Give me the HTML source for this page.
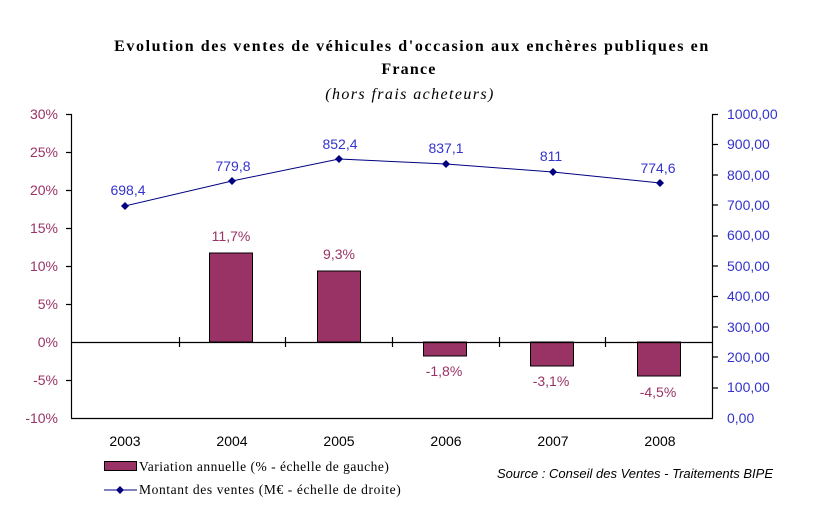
<!DOCTYPE html><html><head><style>body{margin:0;background:#fff}svg text{font-family:"Liberation Sans",sans-serif}svg text.s{font-family:"Liberation Serif",serif}</style></head><body>
<svg width="827" height="525" xmlns="http://www.w3.org/2000/svg">
<rect width="827" height="525" fill="#fff"/>
<text class="s" x="412" y="51" text-anchor="middle" font-size="16" font-weight="bold" letter-spacing="1.6">Evolution des ventes de véhicules d'occasion aux enchères publiques en</text>
<text class="s" x="409" y="74" text-anchor="middle" font-size="16" font-weight="bold" letter-spacing="1.2">France</text>
<text class="s" x="410" y="99" text-anchor="middle" font-size="16" font-style="italic" letter-spacing="1.4">(hors frais acheteurs)</text>
<g font-size="14" fill="#993366" text-anchor="end">
<text x="58" y="119">30%</text><text x="58" y="157">25%</text><text x="58" y="195">20%</text><text x="58" y="233">15%</text><text x="58" y="271">10%</text><text x="58" y="309">5%</text><text x="58" y="347">0%</text><text x="58" y="385">-5%</text><text x="58" y="423">-10%</text>
</g>
<g font-size="14" fill="#3333cc">
<text x="727" y="119">1000,00</text><text x="727" y="149">900,00</text><text x="727" y="180">800,00</text><text x="727" y="210">700,00</text><text x="727" y="240">600,00</text><text x="727" y="271">500,00</text><text x="727" y="301">400,00</text><text x="727" y="332">300,00</text><text x="727" y="362">200,00</text><text x="727" y="392">100,00</text><text x="727" y="423">0,00</text>
</g>
<g fill="#993366" stroke="#000" stroke-width="1">
<rect x="209.5" y="253" width="43" height="89"/>
<rect x="317.5" y="271" width="43" height="71"/>
<rect x="423.5" y="342" width="43" height="14"/>
<rect x="530.5" y="342" width="43" height="24"/>
<rect x="637.5" y="342" width="43" height="34"/>
</g>
<g stroke="#000" stroke-width="1.2" fill="none">
<line x1="71.5" y1="114" x2="71.5" y2="418"/>
<line x1="712.5" y1="114" x2="712.5" y2="418"/>
<line x1="71" y1="418.5" x2="713" y2="418.5"/>
<line x1="71" y1="342.5" x2="713" y2="342.5"/>
<path d="M66 114.5h6M66 152.5h6M66 190.5h6M66 228.5h6M66 266.5h6M66 304.5h6M66 380.5h6"/>
<path d="M712 114.5h6M712 144.5h6M712 175h6M712 205h6M712 236h6M712 266h6M712 296.5h6M712 327h6M712 357h6M712 388h6"/>
<path d="M179.5 337v10M285.5 337v10M392.5 337v10M499.5 337v10M605.5 337v10"/>
</g>
<polyline points="125,206 232,181 339,159 446,164 553,172 660,183" fill="none" stroke="#000080" stroke-width="1"/>
<g fill="#000080">
<path d="M125 202l4 4-4 4-4-4z"/><path d="M232 177l4 4-4 4-4-4z"/><path d="M339 155l4 4-4 4-4-4z"/><path d="M446 160l4 4-4 4-4-4z"/><path d="M553 168l4 4-4 4-4-4z"/><path d="M660 179l4 4-4 4-4-4z"/>
</g>
<g font-size="14" fill="#3333cc" text-anchor="middle">
<text x="128" y="195">698,4</text><text x="233" y="171">779,8</text><text x="340" y="149">852,4</text><text x="446" y="153">837,1</text><text x="551" y="161">811</text><text x="658" y="173">774,6</text>
</g>
<g font-size="14" fill="#993366" text-anchor="middle">
<text x="231" y="241">11,7%</text><text x="339" y="259">9,3%</text><text x="444" y="376">-1,8%</text><text x="551" y="386">-3,1%</text><text x="658" y="397">-4,5%</text>
</g>
<g font-size="14" fill="#000" text-anchor="middle">
<text x="125" y="446">2003</text><text x="232" y="446">2004</text><text x="339" y="446">2005</text><text x="446" y="446">2006</text><text x="553" y="446">2007</text><text x="660" y="446">2008</text>
</g>
<rect x="104.5" y="461.5" width="32" height="9" fill="#993366" stroke="#000"/>
<text class="s" x="139" y="471" font-size="13.5" letter-spacing="0.5">Variation annuelle (% - échelle de gauche)</text>
<line x1="104" y1="490" x2="137" y2="490" stroke="#000080"/>
<path d="M120 486l4 4-4 4-4-4z" fill="#000080"/>
<text class="s" x="139" y="494" font-size="13.5" letter-spacing="0.6">Montant des ventes (M€ - échelle de droite)</text>
<text x="497" y="478" font-size="13" font-style="italic">Source : Conseil des Ventes - Traitements BIPE</text>
</svg>
</body></html>
